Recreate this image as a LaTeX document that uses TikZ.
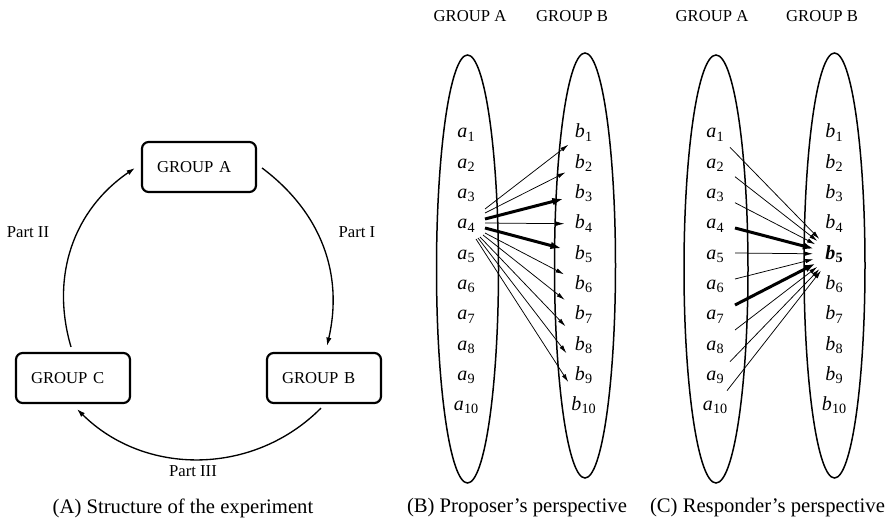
\documentclass[tikz,border=0pt]{standalone}
\usepackage{fontspec}
\setmainfont{Liberation Serif}
\usetikzlibrary{arrows.meta,calc,shapes.geometric}
\newcommand{\lab}[2]{\textit{#1}\kern0.2pt\raisebox{-0.35ex}{\fontsize{8.5}{9}\selectfont #2}}
\newcommand{\blab}[2]{\textbf{\textit{#1}}\kern0.2pt\raisebox{-0.35ex}{\fontsize{8.5}{9}\selectfont\bfseries #2}}
\tikzset{
  grp/.style={draw, line width=1.3pt, rounded corners=4pt, minimum height=30pt,
    inner xsep=9pt, text width=50.4pt, align=left, font=\fontsize{10}{12}\selectfont},
  hdr/.style={font=\fontsize{10}{12}\selectfont, inner sep=0pt},
  captxt/.style={font=\fontsize{12.4}{14}\selectfont, inner sep=0pt},
  lbl/.style={font=\fontsize{12}{14}\selectfont, anchor=base, inner sep=0pt},
  oval/.style={draw, ellipse, line width=0.9pt, inner sep=0pt},
  thinarr/.style={-{Latex[length=5pt,width=2.6pt]}, line width=0.45pt},
  thickarr/.style={-{Latex[length=6.5pt,width=4.6pt]}, line width=1.8pt},
  cyc/.style={-{Latex[length=5pt,width=3.2pt]}, line width=0.8pt}
}
\begin{document}
\begin{tikzpicture}[x=0.6pt,y=0.6pt]
\useasboundingbox (0,0) rectangle (887,-522);
% ---------- Panel A
\node[grp] (GA) at (199,-167) {GROUP A};
\node[grp] (GB) at (324,-378) {GROUP B};
\node[grp] (GC) at (73,-378) {GROUP C};
\draw[cyc] ($(GA.east)+(5,-1)$) to[bend left=33] ($(GB.north)+(3,6)$);
\draw[cyc] ($(GB.south)+(-3,-4)$) to[bend left=45] ($(GC.south)+(4,-5)$);
\draw[cyc] ($(GC.north)+(-2,5)$) to[bend left=36] ($(GA.west)+(-6,-1)$);
\node[hdr] (P1) at (357,-232) {Part I};
\node[hdr] (P2) at (28,-232) {Part II};
\node[hdr] (P3) at (193,-471) {Part III};
\node[captxt] (capA) at (183,-508) {(A) Structure of the experiment};
% ---------- Panel B
\node[hdr] (BhA) at (470,-16) {GROUP A};
\node[hdr] (BhB) at (572,-16) {GROUP B};
\node[oval, minimum width=37.2pt, minimum height=256.8pt] (BA) at (467.5,-269) {};
\node[oval, minimum width=36.6pt, minimum height=255pt] (BB) at (585,-265.5) {};
\node[captxt] (capB) at (517,-508) {(B) Proposer's perspective};
% ---------- Panel C
\node[hdr] (ChA) at (712,-16) {GROUP A};
\node[hdr] (ChB) at (822,-16) {GROUP B};
\node[oval, minimum width=38.4pt, minimum height=256.8pt] (CA) at (716,-269) {};
\node[oval, minimum width=36.6pt, minimum height=255pt] (CB) at (834.5,-265.5) {};
\node[captxt] (capC) at (767.5,-508) {(C) Responder's perspective};
% ---------- labels
\foreach \i in {1,...,10} {
  \pgfmathsetmacro\yy{-138-30.3*(\i-1)}
  \node[lbl] (Ba\i) at (466,\yy) {\lab{a}{\i}};
  \node[lbl] (Bb\i) at (583.5,\yy) {\lab{b}{\i}};
  \node[lbl] (Ca\i) at (715,\yy) {\lab{a}{\i}};
}
\foreach \i in {1,2,3,4,6,7,8,9,10} {
  \pgfmathsetmacro\yy{-138-30.3*(\i-1)}
  \node[lbl] (Cb\i) at (834,\yy) {\lab{b}{\i}};
}
\node[lbl] (Cb5) at (834,-259.2) {\blab{b}{5}};
% ---------- arrows B
\foreach \j/\dx/\dy/\sh/\st in {1/19/19.9/11.4/thinarr, 2/19/15.9/12/thinarr,
  3/19/9.9/12.6/thickarr, 4/19/5.9/11.4/thinarr, 5/19/0.9/13.8/thickarr,
  6/19/-4.1/13.2/thinarr, 7/17/-6.1/14.4/thinarr, 8/14/-8.1/15.6/thinarr,
  9/12/-9.1/16.8/thinarr, 10/10/-10.1/16.8/thinarr}
  \draw[\st, shorten >=\sh pt] ($(Ba4.base)+(\dx,\dy)$) -- ($(Bb\j.base)+(0,5)$);
% ---------- arrows C
\foreach \i/\dx/\dy/\st in {1/15/-9.3/thinarr, 2/20/-8.4/thinarr, 3/20/-4.1/thinarr,
  4/20/0.9/thickarr, 5/20/6.2/thinarr, 6/20/10.5/thinarr, 7/20/14.8/thickarr,
  8/20/20.1/thinarr, 9/15/18.7/thinarr, 10/12/20/thinarr}
  \draw[\st, shorten >=12.6pt] ($(Ca\i.base)+(\dx,\dy)$) -- ($(Cb5.base)+(0,5.2)$);
\end{tikzpicture}
\end{document}
